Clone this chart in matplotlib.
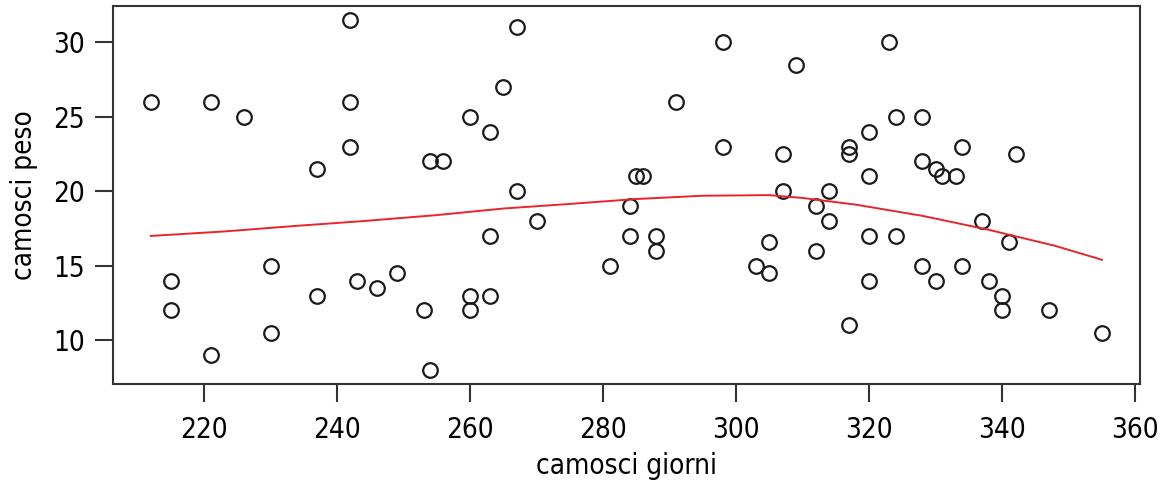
#!/usr/bin/env python3
# camosci: peso vs giorni, scatter with smooth curve

import matplotlib.pyplot as plt
import numpy as np

plt.rcParams["font.family"] = ["DejaVu Sans"]
plt.rcParams["font.stretch"] = "condensed"

# points (giorni, peso)
giorni = [212, 221, 226, 242, 242, 242, 237, 254, 256, 215, 215, 221, 230, 230,
          237, 243, 246, 249, 253, 254, 267, 298, 309, 265, 291, 260, 263, 298,
          307, 285, 286, 267, 307, 270, 263, 284, 284, 288, 288, 281, 260, 260,
          263, 305, 303, 305, 323, 324, 328, 320, 317, 317, 334, 342, 328, 330,
          331, 333, 320, 314, 312, 314, 312, 320, 324, 337, 341, 328, 330, 334,
          338, 340, 340, 347, 355, 320, 317]
peso = [26, 26, 25, 31.5, 26, 23, 21.5, 22, 22, 14, 12, 9, 15, 10.5,
        13, 14, 13.5, 14.5, 12, 8, 31, 30, 28.5, 27, 26, 25, 24, 23,
        22.5, 21, 21, 20, 20, 18, 17, 19, 17, 17, 16, 15, 13, 12,
        13, 16.6, 15, 14.5, 30, 25, 25, 24, 23, 22.5, 23, 22.5, 22, 21.5,
        21, 21, 21, 20, 19, 18, 16, 17, 17, 18, 16.6, 15, 14, 15,
        14, 13, 12, 12, 10.5, 14, 11]

# smooth curve (red)
curve_x = [212, 223, 234, 244, 255, 265, 275, 285, 295, 305, 310, 318, 328, 338, 348, 355]
curve_y = [17.0, 17.3, 17.68, 18.0, 18.4, 18.84, 19.15, 19.48, 19.7, 19.74, 19.55,
           19.1, 18.35, 17.41, 16.33, 15.4]

fig = plt.figure(figsize=(11.73, 4.83), dpi=100)
ax = fig.add_axes([0.0961, 0.205, 0.9719 - 0.0961, 0.9876 - 0.205])

ax.plot(giorni, peso, "o", mfc="none", mec="#1a1a1a", ms=10.5, mew=1.6)
ax.plot(curve_x, curve_y, color="#e8262a", lw=1.4)

xr = max(giorni) - min(giorni)
yr = max(peso) - min(peso)
ax.set_xlim(min(giorni) - 0.04 * xr, max(giorni) + 0.04 * xr)
ax.set_ylim(min(peso) - 0.04 * yr, max(peso) + 0.04 * yr)

ax.set_xticks(np.arange(220, 361, 20))
ax.set_yticks([10, 15, 20, 25, 30])
ax.tick_params(axis="both", length=13, width=1.5, color="#333333",
               labelsize=20, pad=7)
ax.tick_params(axis="x", pad=10)
for s in ax.spines.values():
    s.set_linewidth(1.5)
    s.set_color("#333333")

ax.set_xlabel("camosci giorni", fontsize=20, labelpad=6)
ax.set_ylabel("camosci peso", fontsize=20, labelpad=11)

fig.savefig("out.png", dpi=100)
